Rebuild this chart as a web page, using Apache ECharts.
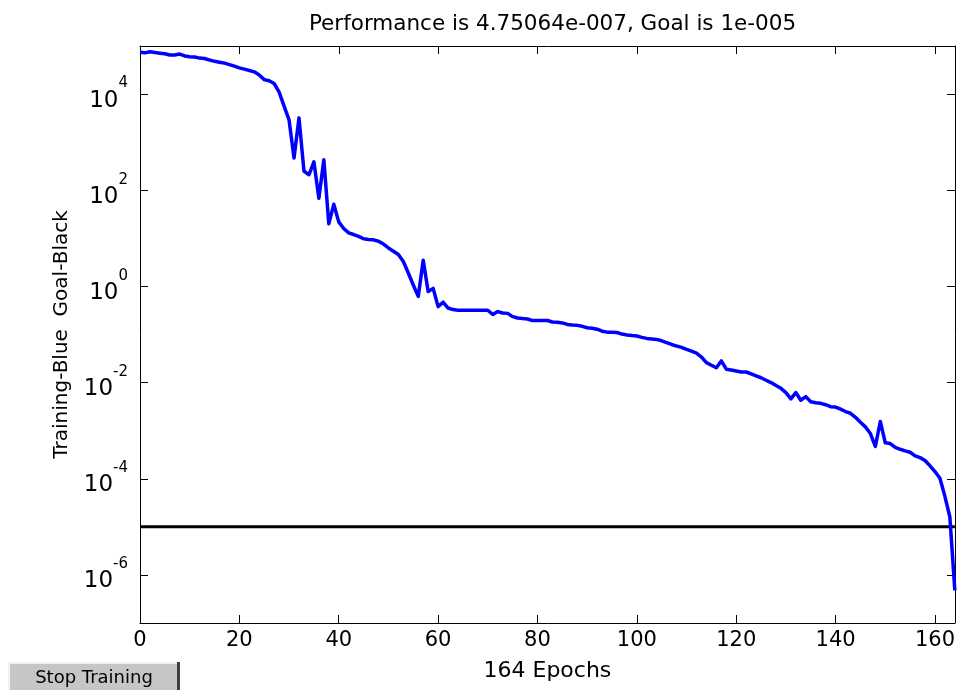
<!DOCTYPE html>
<html>
<head>
<meta charset="utf-8">
<script src="https://cdn.jsdelivr.net/npm/echarts@6/dist/echarts.min.js"></script>
<style>
  html, body { margin: 0; padding: 0; background: #fff; }
  #chart { width: 958px; height: 690px; }
</style>
</head>
<body>
<div id="chart"></div>
<script>
// ---- data ----
const titleText = 'Performance is 4.75064e-007, Goal is 1e-005';
const xAxisName = '164 Epochs';
const yAxisName = 'Training-Blue  Goal-Black';
const goalValue = 1e-5;
const epochMax = 164;
const xTickStep = 20;
const yTickExponents = [-6, -4, -2, 0, 2, 4];
const yMinExponent = -7;
const yMaxExponent = 5;

// training performance, one value per epoch 0..164
const trainingPerf = [
  7.4e4, 7.2e4, 7.6e4, 7.3e4, 7.1e4, 6.9e4, 6.5e4, 6.5e4, 6.8e4, 6.2e4,
  6.0e4, 5.9e4, 5.6e4, 5.5e4, 5.1e4, 4.8e4, 4.6e4, 4.4e4, 4.1e4, 3.8e4,
  3.5e4, 3.3e4, 3.1e4, 2.9e4, 2.5e4, 2.0e4, 1.9e4, 1.66e4, 1.1e4, 5.6e3,
  2.9e3, 4.7e2, 3.2e3, 2.5e2, 2.1e2, 3.9e2, 68, 430, 20, 51,
  22, 16, 13, 12, 11, 9.8, 9.5, 9.3, 8.7, 7.6,
  6.3, 5.4, 4.6, 3.3, 1.9, 1.07, 0.62, 3.5, 0.78, 0.91,
  0.38, 0.47, 0.355, 0.33, 0.32, 0.32, 0.32, 0.32, 0.32, 0.32,
  0.32, 0.26, 0.30, 0.28, 0.275, 0.235, 0.22, 0.214, 0.21, 0.195,
  0.195, 0.195, 0.195, 0.182, 0.18, 0.174, 0.162, 0.158, 0.155, 0.148,
  0.138, 0.135, 0.129, 0.117, 0.112, 0.112, 0.11, 0.102, 0.098, 0.095,
  0.093, 0.087, 0.083, 0.081, 0.079, 0.074, 0.068, 0.062, 0.0575, 0.054,
  0.049, 0.045, 0.041, 0.034, 0.026, 0.023, 0.0204, 0.0282, 0.019, 0.0182,
  0.0174, 0.0166, 0.0166, 0.0151, 0.0138, 0.0126, 0.0112, 0.0100, 0.0087, 0.0076,
  0.0062, 0.0046, 0.0062, 0.0043, 0.0051, 0.0040, 0.0038, 0.0037, 0.00347, 0.00316,
  0.0031, 0.0028, 0.0025, 0.0023, 0.0019, 0.0015, 0.0012, 0.00087, 0.00047, 0.00155,
  0.00056, 0.00054, 0.00045, 0.00041, 0.00038, 0.000355, 0.0003, 0.000275, 0.00024, 0.000186,
  0.000141, 0.000102, 4.3e-5, 1.6e-5, 4.75064e-7
];

// ---- chart ----
const chart = echarts.init(document.getElementById('chart'), null, { renderer: 'canvas' });
const FONT = 'DejaVu Sans';
const gridBox = { left: 140, right: 3, top: 46, bottom: 67 };

const trainingData = trainingPerf.map((v, i) => [i, v]);
const goalData = [[0, goalValue], [epochMax, goalValue]];

const boxLine = { show: true, onZero: false, lineStyle: { color: '#000', width: 1 } };
const inTick = { show: true, inside: true, length: 8, lineStyle: { color: '#000', width: 1 } };

const option = {
  backgroundColor: '#ffffff',
  animation: false,
  title: {
    text: titleText,
    left: (gridBox.left + 958 - gridBox.right) / 2,
    textAlign: 'center',
    top: 8,
    textStyle: { fontFamily: FONT, fontSize: 21.5, fontWeight: 'normal', color: '#000' }
  },
  grid: [
    Object.assign({}, gridBox, { containLabel: false }),
    Object.assign({}, gridBox, { containLabel: false })
  ],
  xAxis: [
    {
      gridIndex: 0, type: 'value', position: 'bottom',
      min: 0, max: epochMax, interval: xTickStep,
      axisLine: boxLine, axisTick: inTick, splitLine: { show: false },
      axisLabel: { show: true, showMaxLabel: false, margin: 7, color: '#000', fontFamily: FONT, fontSize: 21 },
      name: xAxisName, nameLocation: 'middle', nameGap: 37,
      nameTextStyle: { color: '#000', fontFamily: FONT, fontSize: 22 }
    },
    {
      gridIndex: 1, type: 'value', position: 'top',
      min: 0, max: epochMax, interval: xTickStep,
      axisLine: boxLine, axisTick: inTick, splitLine: { show: false },
      axisLabel: { show: false }
    }
  ],
  yAxis: [
    {
      gridIndex: 0, type: 'log', logBase: 10,
      min: Math.pow(10, yMinExponent), max: Math.pow(10, yMaxExponent),
      axisLine: { show: false, onZero: false }, axisTick: { show: false },
      axisLabel: { show: false }, splitLine: { show: false }
    },
    {
      gridIndex: 1, type: 'value', position: 'left',
      min: yMinExponent, max: yMaxExponent, splitNumber: 6,
      axisLine: boxLine, axisTick: inTick, splitLine: { show: false },
      axisLabel: {
        show: true, showMinLabel: false, showMaxLabel: false, margin: 12,
        formatter: function (v) {
          return yTickExponents.indexOf(v) >= 0 ? '{b|10}{s|' + v + '}' : '';
        },
        rich: {
          b: { fontFamily: FONT, fontSize: 23, color: '#000', lineHeight: 36, verticalAlign: 'bottom' },
          s: { fontFamily: FONT, fontSize: 15, color: '#000', lineHeight: 36, verticalAlign: 'top' }
        }
      },
      name: yAxisName, nameLocation: 'middle', nameGap: 68, nameRotate: 90,
      nameTextStyle: { color: '#000', fontFamily: FONT, fontSize: 20 }
    },
    {
      gridIndex: 1, type: 'value', position: 'right',
      min: yMinExponent, max: yMaxExponent, splitNumber: 6,
      axisLine: boxLine, axisTick: inTick, splitLine: { show: false },
      axisLabel: { show: false }
    }
  ],
  series: [
    {
      name: 'Goal', type: 'line', xAxisIndex: 0, yAxisIndex: 0,
      data: goalData, showSymbol: false, symbol: 'none',
      lineStyle: { color: '#000', width: 3 }, z: 3
    },
    {
      name: 'Training', type: 'line', xAxisIndex: 0, yAxisIndex: 0,
      data: trainingData, showSymbol: false, symbol: 'none',
      lineStyle: { color: '#0000ff', width: 3.5, join: 'round' }, z: 4
    }
  ],
  graphic: [
    {
      type: 'group', left: 8, top: 662,
      children: [
        { type: 'rect', shape: { x: 0, y: 0, width: 172, height: 32 }, style: { fill: '#c6c6c6' } },
        { type: 'rect', shape: { x: 0, y: 0, width: 2, height: 32 }, style: { fill: '#f2f2f2' } },
        { type: 'rect', shape: { x: 0, y: 0, width: 172, height: 2 }, style: { fill: '#f2f2f2' } },
        { type: 'rect', shape: { x: 169, y: 0, width: 3, height: 32 }, style: { fill: '#404040' } },
        { type: 'text', x: 86, y: 16, style: { text: 'Stop Training', fontFamily: FONT, fontSize: 18, fill: '#000', align: 'center', verticalAlign: 'middle' } }
      ]
    }
  ]
};
chart.setOption(option);
</script>
</body>
</html>
